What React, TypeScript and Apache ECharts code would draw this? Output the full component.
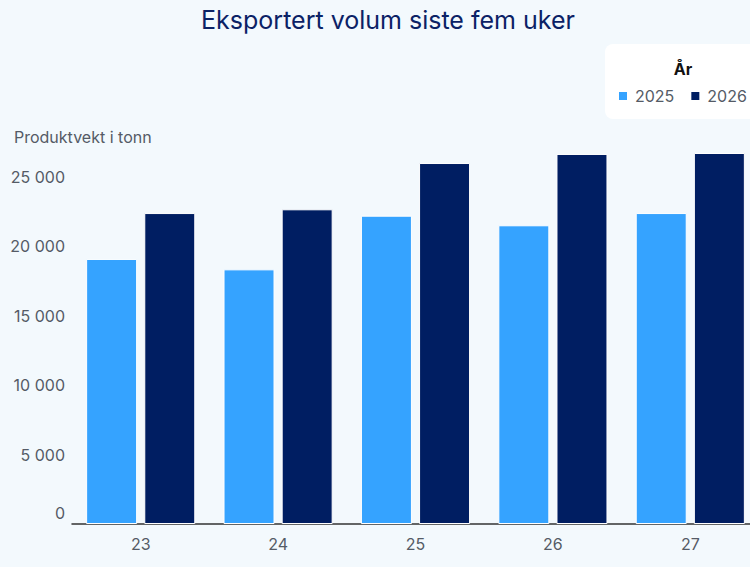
import React, { useEffect, useRef } from "react";
import * as echarts from "echarts";

const weeks = ["23", "24", "25", "26", "27"];
const seriesNames = ["2025", "2026"];
const values2025 = [19070, 18320, 22180, 21490, 22370];
const values2026 = [22370, 22640, 25970, 26620, 26690];
const yTicks = [0, 5000, 10000, 15000, 20000, 25000];

const FONT = "Inter";

function fmt(v: number): string {
  return String(v).replace(/\B(?=(\d{3})+(?!\d))/g, " ");
}

export default function App() {
  const ref = useRef<HTMLDivElement>(null);
  useEffect(() => {
    document.body.style.margin = "0";
    const chart = echarts.init(ref.current!, undefined, { renderer: "svg" });
    chart.setOption({
      animation: false,
      backgroundColor: "#f3f9fd",
      textStyle: { fontFamily: FONT },
      title: {
        text: "Eksportert volum siste fem uker",
        left: 383,
        top: 2,
        textAlign: "center",
        textStyle: { color: "#0b2266", fontSize: 25, fontWeight: "normal", fontFamily: FONT },
      },
      graphic: [
        { type: "rect", shape: { x: 605, y: 44, width: 170, height: 75, r: 8 }, style: { fill: "#ffffff" }, z: 0 },
        {
          type: "text",
          x: 683,
          y: 69,
          style: { text: "År", fill: "#111", font: `bold 16px ${FONT}`, textAlign: "center", textVerticalAlign: "middle" },
          z: 10,
        },
        {
          type: "text",
          x: 14,
          y: 137,
          style: { text: "Produktvekt i tonn", fill: "#555b66", font: `16px ${FONT}`, textAlign: "left", textVerticalAlign: "middle" },
          z: 10,
        },
      ],
      legend: {
        data: seriesNames,
        orient: "horizontal",
        left: 617,
        top: 88,
        width: 140,
        padding: 0,
        itemWidth: 10,
        itemHeight: 10,
        itemGap: 15,
        icon: "rect",
        textStyle: { color: "#555b66", fontSize: 16, fontFamily: FONT, padding: [0, 0, 0, 2] },
        z: 10,
      },
      grid: { left: 72, right: 0, top: 107, bottom: 43, containLabel: false },
      xAxis: {
        type: "category",
        data: weeks,
        axisLine: { show: true, lineStyle: { color: "#333", width: 1.5 } },
        axisTick: { show: false },
        axisLabel: { color: "#555b66", fontSize: 16, fontFamily: FONT, margin: 12 },
      },
      yAxis: {
        type: "value",
        min: 0,
        max: 30000,
        interval: 5000,
        splitLine: { show: false },
        axisLine: { show: false },
        axisTick: { show: false },
        axisLabel: {
          color: "#555b66",
          fontSize: 16,
          fontFamily: FONT,
          margin: 7,
          formatter: (v: number) => {
            if (!yTicks.includes(v)) return "";
            return v === 0 ? "{zero|0}" : fmt(v);
          },
          rich: { zero: { color: "#555b66", fontSize: 16, fontFamily: FONT, padding: [0, 0, 22, 0] } },
        },
      },
      series: [
        {
          name: seriesNames[0],
          type: "bar",
          data: values2025,
          barWidth: 51,
          barGap: "14%",
          itemStyle: { color: "#35a3ff", borderColor: "#ffffff", borderWidth: 1 },
        },
        {
          name: seriesNames[1],
          type: "bar",
          data: values2026,
          barWidth: 51,
          barGap: "14%",
          itemStyle: { color: "#001e62", borderColor: "#ffffff", borderWidth: 1 },
        },
      ],
    });
    return () => chart.dispose();
  }, []);
  return (
    <div style={{ position: "fixed", left: 0, top: 0, width: 750, height: 567, overflow: "hidden", background: "#f3f9fd" }}>
      <div ref={ref} style={{ width: 759, height: 567 }} />
    </div>
  );
}
